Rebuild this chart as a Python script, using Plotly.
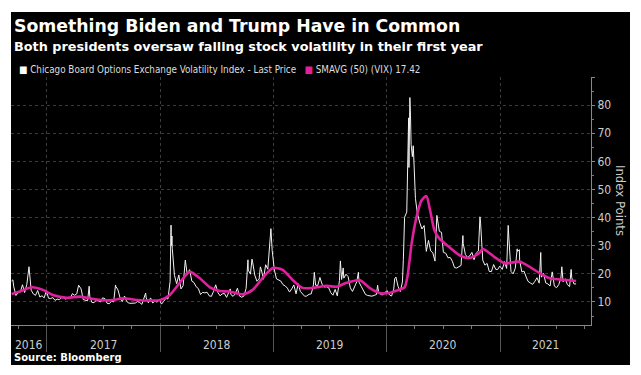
import plotly.graph_objects as go

# ---------------- data ----------------
vix_dates = [
    "2016-09-09","2016-09-13","2016-09-16","2016-09-23","2016-09-30","2016-10-07","2016-10-14","2016-10-21","2016-10-28",
    "2016-11-04","2016-11-11","2016-11-18","2016-11-25","2016-12-02","2016-12-09","2016-12-16","2016-12-23","2016-12-30",
    "2017-01-06","2017-01-13","2017-01-20","2017-01-27","2017-02-03","2017-02-10","2017-02-17","2017-02-24","2017-03-03",
    "2017-03-10","2017-03-17","2017-03-21","2017-03-24","2017-03-31","2017-04-07","2017-04-13","2017-04-21","2017-04-28",
    "2017-05-05","2017-05-12","2017-05-17","2017-05-19","2017-05-26","2017-06-02","2017-06-09","2017-06-16","2017-06-23",
    "2017-06-29","2017-07-07","2017-07-14","2017-07-21","2017-07-28","2017-08-04","2017-08-10","2017-08-11","2017-08-18",
    "2017-08-25","2017-09-01","2017-09-08","2017-09-15","2017-09-22","2017-09-29","2017-10-06","2017-10-13","2017-10-20",
    "2017-10-27","2017-11-03","2017-11-10","2017-11-15","2017-11-17","2017-11-24","2017-12-01","2017-12-08","2017-12-15",
    "2017-12-22","2017-12-29",
    "2018-01-05","2018-01-12","2018-01-19","2018-01-26","2018-02-02","2018-02-05","2018-02-06","2018-02-08","2018-02-09",
    "2018-02-16","2018-02-23","2018-03-02","2018-03-09","2018-03-16","2018-03-23","2018-03-29","2018-04-06","2018-04-13",
    "2018-04-20","2018-04-27","2018-05-04","2018-05-11","2018-05-18","2018-05-25","2018-06-01","2018-06-08","2018-06-15",
    "2018-06-22","2018-06-29","2018-07-06","2018-07-13","2018-07-20","2018-07-27","2018-08-03","2018-08-10","2018-08-15",
    "2018-08-17","2018-08-24","2018-08-31","2018-09-07","2018-09-14","2018-09-21","2018-09-28","2018-10-05","2018-10-11",
    "2018-10-12","2018-10-19","2018-10-24","2018-10-26","2018-11-02","2018-11-09","2018-11-16","2018-11-20","2018-11-23",
    "2018-11-30","2018-12-07","2018-12-14","2018-12-21","2018-12-24","2018-12-28",
    "2019-01-04","2019-01-11","2019-01-18","2019-01-25","2019-02-01","2019-02-08","2019-02-15","2019-02-22","2019-03-01",
    "2019-03-08","2019-03-15","2019-03-22","2019-03-29","2019-04-05","2019-04-12","2019-04-18","2019-04-26","2019-05-03",
    "2019-05-10","2019-05-13","2019-05-17","2019-05-24","2019-05-31","2019-06-07","2019-06-14","2019-06-21","2019-06-28",
    "2019-07-05","2019-07-12","2019-07-19","2019-07-26","2019-08-02","2019-08-05","2019-08-09","2019-08-14","2019-08-16",
    "2019-08-23","2019-08-30","2019-09-06","2019-09-13","2019-09-20","2019-09-27","2019-10-02","2019-10-04","2019-10-11",
    "2019-10-18","2019-10-25","2019-11-01","2019-11-08","2019-11-15","2019-11-22","2019-11-29","2019-12-03","2019-12-06",
    "2019-12-13","2019-12-20","2019-12-27",
    "2020-01-03","2020-01-10","2020-01-17","2020-01-24","2020-01-27","2020-01-31","2020-02-07","2020-02-14","2020-02-21",
    "2020-02-24","2020-02-27","2020-02-28","2020-03-06","2020-03-09","2020-03-12","2020-03-13","2020-03-16","2020-03-18",
    "2020-03-20","2020-03-24","2020-03-27","2020-04-03","2020-04-09","2020-04-17","2020-04-24","2020-05-01","2020-05-08",
    "2020-05-15","2020-05-22","2020-05-29","2020-06-05","2020-06-11","2020-06-19","2020-06-26","2020-07-02","2020-07-10",
    "2020-07-17","2020-07-24","2020-07-31","2020-08-07","2020-08-14","2020-08-21","2020-08-28","2020-09-03","2020-09-04",
    "2020-09-11","2020-09-18","2020-09-25","2020-10-02","2020-10-09","2020-10-16","2020-10-23","2020-10-28","2020-10-30",
    "2020-11-06","2020-11-13","2020-11-20","2020-11-27","2020-12-04","2020-12-11","2020-12-18","2020-12-24","2020-12-31",
    "2021-01-08","2021-01-15","2021-01-22","2021-01-27","2021-01-29","2021-02-05","2021-02-12","2021-02-19","2021-02-25",
    "2021-02-26","2021-03-04","2021-03-05","2021-03-12","2021-03-19","2021-03-26","2021-04-01","2021-04-09","2021-04-16",
    "2021-04-23","2021-04-30","2021-05-07","2021-05-12","2021-05-14","2021-05-21","2021-05-28","2021-06-04","2021-06-11",
    "2021-06-18","2021-06-25","2021-07-02","2021-07-09","2021-07-16","2021-07-19","2021-07-23","2021-07-30","2021-08-06",
    "2021-08-13","2021-08-18","2021-08-20","2021-08-27","2021-09-03",
]
vix_values = [
    17.50,17.85,15.37,12.29,13.29,13.48,16.12,13.34,16.19,
    22.51,14.17,12.85,12.34,14.07,11.75,12.20,11.44,14.04,
    11.32,11.23,11.54,10.58,10.97,10.85,11.49,11.47,10.96,
    11.66,11.28,12.47,12.96,12.37,12.87,15.96,14.63,10.82,
    10.57,10.40,15.59,12.04,9.81,9.75,10.70,10.38,10.02,
    11.44,11.19,9.51,9.36,10.29,10.03,16.04,15.51,14.26,
    11.28,10.13,12.12,10.17,9.59,9.51,9.65,9.61,10.15,
    9.80,9.14,11.29,13.13,11.43,9.67,11.43,9.58,10.49,
    9.90,11.04,
    9.22,10.16,11.27,11.08,17.31,37.32,29.98,33.46,29.06,
    19.46,16.49,19.59,14.64,15.80,24.87,19.97,21.49,17.41,
    16.88,15.41,14.77,12.65,13.42,13.22,13.46,12.18,11.98,
    13.77,16.09,13.37,12.18,12.86,13.03,11.64,13.16,14.64,
    12.64,11.99,12.86,14.88,12.07,11.68,12.12,14.82,24.98,
    21.31,19.89,25.23,24.16,19.51,17.36,18.14,22.48,21.52,
    18.07,23.23,21.63,30.11,36.07,28.34,
    21.38,18.19,17.80,17.42,16.14,15.72,14.91,13.51,14.63,
    16.05,12.88,16.48,13.71,12.82,12.01,12.09,12.73,12.87,
    16.04,20.55,15.96,15.85,18.71,16.30,15.28,15.40,15.08,
    13.28,12.39,14.45,12.16,17.61,24.59,17.97,22.10,18.47,
    19.87,18.98,15.00,13.74,15.32,17.22,20.56,17.04,15.58,
    14.25,12.65,12.30,12.07,12.05,12.34,12.62,15.96,13.62,
    12.63,12.51,13.43,
    14.02,12.56,12.10,14.56,18.23,18.84,15.47,13.68,17.08,
    25.03,39.16,40.11,41.94,54.46,75.47,57.83,82.69,76.45,
    66.04,61.67,65.54,46.80,41.67,38.15,35.93,37.19,27.98,
    31.89,28.16,27.51,24.52,40.79,35.12,34.73,27.68,27.29,
    25.68,25.84,24.46,22.21,22.05,22.54,22.96,33.60,30.75,
    26.87,25.83,26.38,27.63,25.00,27.41,28.11,40.28,38.02,
    24.86,23.10,23.70,20.84,20.79,23.31,21.57,21.53,22.75,
    21.56,24.34,21.91,37.21,33.09,20.87,19.97,22.05,28.89,
    27.95,28.57,24.66,20.69,20.95,18.86,17.33,16.69,16.25,
    17.33,18.61,16.69,27.59,18.81,20.15,16.76,16.42,15.65,
    20.70,15.62,15.07,16.18,18.45,22.50,17.20,18.24,16.15,
    15.45,21.57,18.56,16.39,16.41,
]

sma_dates = [
    "2016-09-09","2016-10-05","2016-11-13","2016-12-19","2017-01-20","2017-03-06","2017-04-17","2017-05-19",
    "2017-06-21","2017-08-02","2017-09-03","2017-10-18","2017-11-29","2018-01-01","2018-02-01","2018-03-05",
    "2018-04-06","2018-05-08","2018-06-09","2018-07-12","2018-08-13","2018-09-24","2018-10-26","2018-11-27",
    "2018-12-30","2019-01-31","2019-03-04","2019-04-05","2019-05-08","2019-06-22","2019-07-24","2019-08-25",
    "2019-10-06","2019-11-07","2019-12-09","2020-01-10","2020-02-12","2020-02-28","2020-03-08","2020-03-22",
    "2020-04-06","2020-04-22","2020-05-08","2020-05-20","2020-06-03","2020-06-18","2020-07-20","2020-08-22",
    "2020-09-24","2020-10-26","2020-11-06","2020-12-02","2020-12-20","2021-01-16","2021-03-06","2021-05-09",
    "2021-06-10","2021-08-04","2021-09-03",
]
sma_values = [
    12.8,13.7,15.2,14.3,12.5,11.5,11.9,11.3,
    10.7,10.7,11.3,10.7,10.5,10.7,12.5,16.8,
    20.7,18.5,15.3,13.9,13.7,12.7,14.3,18.5,
    22.1,21.4,17.8,15.0,15.0,15.7,15.4,16.8,
    17.8,15.0,13.2,13.2,14.4,15.2,18.9,31.0,
    40.0,46.0,47.7,42.7,35.6,32.7,29.6,26.7,
    25.6,27.4,28.8,27.0,25.5,23.7,24.3,20.2,
    18.4,17.8,17.42,
]

year_labels = ["2016", "2017", "2018", "2019", "2020", "2021"]
year_label_centers = ["2016-11-04", "2017-07-02", "2018-07-02", "2019-07-02", "2020-07-02", "2021-05-27"]

title = "Something Biden and Trump Have in Common"
subtitle = "Both presidents oversaw falling stock volatility in their first year"
legend_vix = "Chicago Board Options Exchange Volatility Index - Last Price"
legend_sma = "SMAVG (50) (VIX) 17.42"

# ---------------- layout helpers (page pixel coordinates) ----------------
OFF = 8                      # default page-body margin of the html page
W, H = 641 - 2 * OFF, 375 - 2 * OFF
PL, PR, PT, PB = 11, 591, 77, 325  # plot area in page pixels


def px(x):
    return (x - PL) / (PR - PL)


def py(y):
    return (PB - y) / (PB - PT)


MAG = "#e0209c"
COND = "DejaVu Sans Condensed, DejaVu Sans, sans-serif"

fig = go.Figure()
fig.add_trace(go.Scatter(x=vix_dates, y=vix_values, mode="lines",
                         line=dict(color="#f2f2f2", width=1), hoverinfo="skip"))
fig.add_trace(go.Scatter(x=sma_dates, y=sma_values, mode="lines",
                         line=dict(color=MAG, width=2.6, shape="spline", smoothing=0.7),
                         hoverinfo="skip"))

shapes = [
    dict(type="rect", xref="paper", yref="paper", x0=px(11), x1=px(630), y0=py(365), y1=py(12),
         fillcolor="black", line=dict(width=0), layer="below"),
]

annotations = [
    dict(text="<b>" + title + "</b>", x=px(12), y=py(26), xref="paper", yref="paper",
         xanchor="left", yanchor="middle", showarrow=False,
         font=dict(family="DejaVu Sans", size=17.3, color="white")),
    dict(text="<b>" + subtitle + "</b>", x=px(12), y=py(46), xref="paper", yref="paper",
         xanchor="left", yanchor="middle", showarrow=False,
         font=dict(family="DejaVu Sans", size=12.8, color="white")),
    dict(text='<span style="color:#ffffff">■</span> ' + legend_vix +
              '   <span style="color:' + MAG + '">■</span> ' + legend_sma,
         x=px(17), y=py(70), xref="paper", yref="paper",
         xanchor="left", yanchor="middle", showarrow=False,
         font=dict(family=COND, size=9.8, color="#dddddd")),
    dict(text="Index Points", textangle=90, x=px(621), y=py(200), xref="paper", yref="paper",
         xanchor="center", yanchor="middle", showarrow=False,
         font=dict(family=COND, size=13, color="#cccccc")),
    dict(text="<b>Source: Bloomberg</b>", x=px(12), y=py(357), xref="paper", yref="paper",
         xanchor="left", yanchor="middle", showarrow=False,
         font=dict(family="DejaVu Sans", size=10, color="white")),
]
for lab, c in zip(year_labels, year_label_centers):
    annotations.append(dict(text=lab, x=c, y=py(345), xref="x", yref="paper",
                            xanchor="center", yanchor="middle", showarrow=False,
                            font=dict(family=COND, size=12, color="#cccccc")))

fig.update_layout(
    width=W, height=H,
    margin=dict(l=PL - OFF, r=(W + OFF) - PR, t=PT - OFF, b=(H + OFF) - PB, pad=0),
    paper_bgcolor="white", plot_bgcolor="black",
    showlegend=False,
    shapes=shapes, annotations=annotations,
    xaxis=dict(type="date", range=["2016-09-07", "2021-10-21"],
               showticklabels=False, tick0="2017-01-01", dtick="M12",
               ticks="outside", ticklen=26, tickcolor="#555555", tickwidth=1,
               showgrid=True, gridcolor="#3a3a3a", griddash="dot", gridwidth=1,
               minor=dict(dtick="M3", tick0="2017-01-01", ticks="outside", ticklen=3,
                          tickcolor="#777777", showgrid=False),
               showline=True, linecolor="#888888", linewidth=1, zeroline=False, fixedrange=True),
    yaxis=dict(side="right", range=[1.8, 90],
               tickvals=[10, 20, 30, 40, 50, 60, 70, 80, 90],
               ticktext=["10", "20", "30", "40", "50", "60", "70", "80", ""],
               ticks="outside", ticklen=3, tickcolor="#888888",
               minor=dict(dtick=5, tick0=0, ticks="outside", ticklen=2, tickcolor="#777777", showgrid=False),
               showgrid=True, gridcolor="#3a3a3a", griddash="dot", gridwidth=1,
               showline=True, linecolor="#888888", linewidth=1, zeroline=False,
               tickfont=dict(family=COND, size=12, color="#cccccc"), fixedrange=True),
)

fig.write_html("out.html")
